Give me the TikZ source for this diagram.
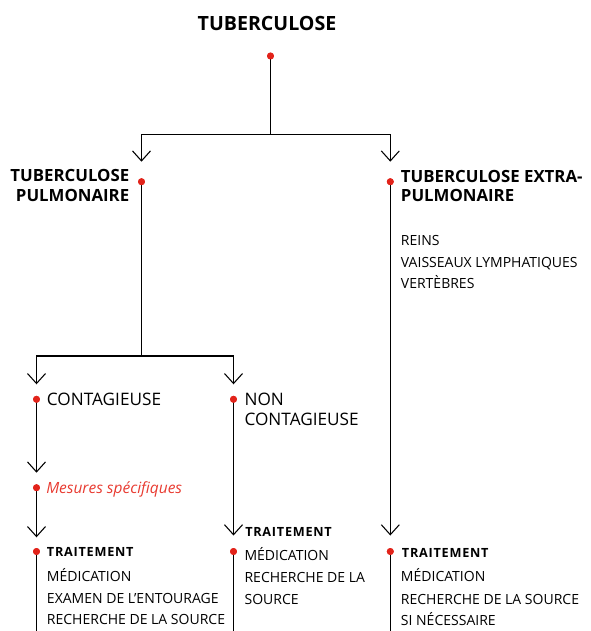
\documentclass[tikz,border=0pt]{standalone}
\usepackage{fontspec}
\setmainfont{Open Sans}
\usetikzlibrary{arrows.meta}
\definecolor{dotred}{RGB}{226,35,26}
\definecolor{txtred}{RGB}{232,58,48}
\begin{document}
\begin{tikzpicture}[x=0.75pt,y=-0.75pt,
  dot/.style={circle,fill=dotred,inner sep=0pt,minimum size=5.2pt},
  conn/.style={line width=0.8pt,black},
  arr/.style={conn,-{Straight Barb[length=7.5pt,width=13.5pt,line width=0.8pt]}},
  titletxt/.style={inner sep=0pt,anchor=base,font=\fontsize{14.7}{17}\selectfont\bfseries},
  headtxt/.style={inner sep=0pt,font=\fontsize{12.6}{15}\selectfont\bfseries},
  bigtxt/.style={inner sep=0pt,anchor=base west,font=\fontsize{12.9}{15}\selectfont},
  itemtxt/.style={inner sep=0pt,anchor=base west,font=\fontsize{10.5}{13}\selectfont},
  treattxt/.style={inner sep=0pt,anchor=base west,font=\fontsize{9.5}{11}\selectfont\bfseries\addfontfeatures{LetterSpace=6}},
  mestxt/.style={inner sep=0pt,anchor=base west,text=txtred,font=\fontsize{11.6}{14}\selectfont\itshape}
]
\useasboundingbox (0,0) rectangle (590,631);

% texts
\node[titletxt] (title) at (267,30.7) {TUBERCULOSE};
\node[headtxt,anchor=base east] (pulm1) at (129.5,181.7) {TUBERCULOSE};
\node[headtxt,anchor=base east] (pulm2) at (129.5,201) {PULMONAIRE};
\node[headtxt,anchor=base west] (extra1) at (400.7,182) {TUBERCULOSE EXTRA-};
\node[headtxt,anchor=base west] (extra2) at (400.7,201.5) {PULMONAIRE};
\node[itemtxt] (reins) at (400.7,245.5) {REINS};
\node[itemtxt] (vaiss) at (400.7,267) {VAISSEAUX LYMPHATIQUES};
\node[itemtxt] (vert) at (400.7,288.5) {VERTÈBRES};
\node[bigtxt] (cont) at (46.7,405.3) {CONTAGIEUSE};
\node[bigtxt] (non1) at (244.3,405.3) {NON};
\node[bigtxt] (non2) at (244.3,425) {CONTAGIEUSE};
\node[mestxt] (mes) at (46,493.3) {Mesures spécifiques};
\node[treattxt] (trL) at (46.7,556.3) {TRAITEMENT};
\node[itemtxt] (medL) at (46.7,581.7) {MÉDICATION};
\node[itemtxt] (exaL) at (46.7,603) {EXAMEN DE L’ENTOURAGE};
\node[itemtxt] (recL) at (46.7,624.2) {RECHERCHE DE LA SOURCE};
\node[treattxt] (trM) at (245,536.5) {TRAITEMENT};
\node[itemtxt] (medM) at (244.3,560) {MÉDICATION};
\node[itemtxt] (recM) at (244.3,582) {RECHERCHE DE LA};
\node[itemtxt] (souM) at (244.3,604) {SOURCE};
\node[treattxt] (trR) at (401.7,557) {TRAITEMENT};
\node[itemtxt] (medR) at (400.7,581.7) {MÉDICATION};
\node[itemtxt] (recR) at (400.7,604) {RECHERCHE DE LA SOURCE};
\node[itemtxt] (siR) at (400.7,625.5) {SI NÉCESSAIRE};

% dots
\node[dot] (dTop) at (270.5,56) {};
\node[dot] (dPulm) at (141.5,181.7) {};
\node[dot] (dExtra) at (390.3,181.7) {};
\node[dot] (dCont) at (36.5,399.3) {};
\node[dot] (dNon) at (233.5,399.3) {};
\node[dot] (dMes) at (36.5,487.7) {};
\node[dot] (dTrL) at (36.5,551.5) {};
\node[dot] (dTrM) at (233.5,551.5) {};
\node[dot] (dTrR) at (390.3,551.5) {};

% junctions and arrow tips
\coordinate (jTop) at (270.5,134.5);
\coordinate (tPulm) at (141.5,161.7);
\coordinate (tExtra) at (390.3,161.7);
\coordinate (jPulm) at (141.5,356);
\coordinate (tCont) at (36.5,384.3);
\coordinate (tNon) at (233.5,384.3);
\coordinate (tMes) at (36.5,472.7);
\coordinate (tTrL) at (36.5,537.3);
\coordinate (tTrM) at (233.5,535.5);
\coordinate (tTrR) at (390.3,535.5);
\coordinate (bL) at (36.5,631);
\coordinate (bM) at (233.5,631);
\coordinate (bR) at (390.3,631);

% connectors
\draw[conn] (dTop.center) -- (jTop);
\draw[arr] (jTop) -| (tPulm);
\draw[arr] (jTop) -| (tExtra);
\draw[conn] (dPulm.center) -- (jPulm);
\draw[arr] (jPulm) -| (tCont);
\draw[arr] (jPulm) -| (tNon);
\draw[arr] (dExtra.center) -- (tTrR);
\draw[arr] (dCont.center) -- (tMes);
\draw[arr] (dMes.center) -- (tTrL);
\draw[arr] (dNon.center) -- (tTrM);
\draw[conn] (dTrL.center) -- (bL);
\draw[conn] (dTrM.center) -- (bM);
\draw[conn] (dTrR.center) -- (bR);

% redraw dots on top
\foreach \d in {dTop,dPulm,dExtra,dCont,dNon,dMes,dTrL,dTrM,dTrR}
  \fill[dotred] (\d) circle (2.6pt);
\end{tikzpicture}
\end{document}
